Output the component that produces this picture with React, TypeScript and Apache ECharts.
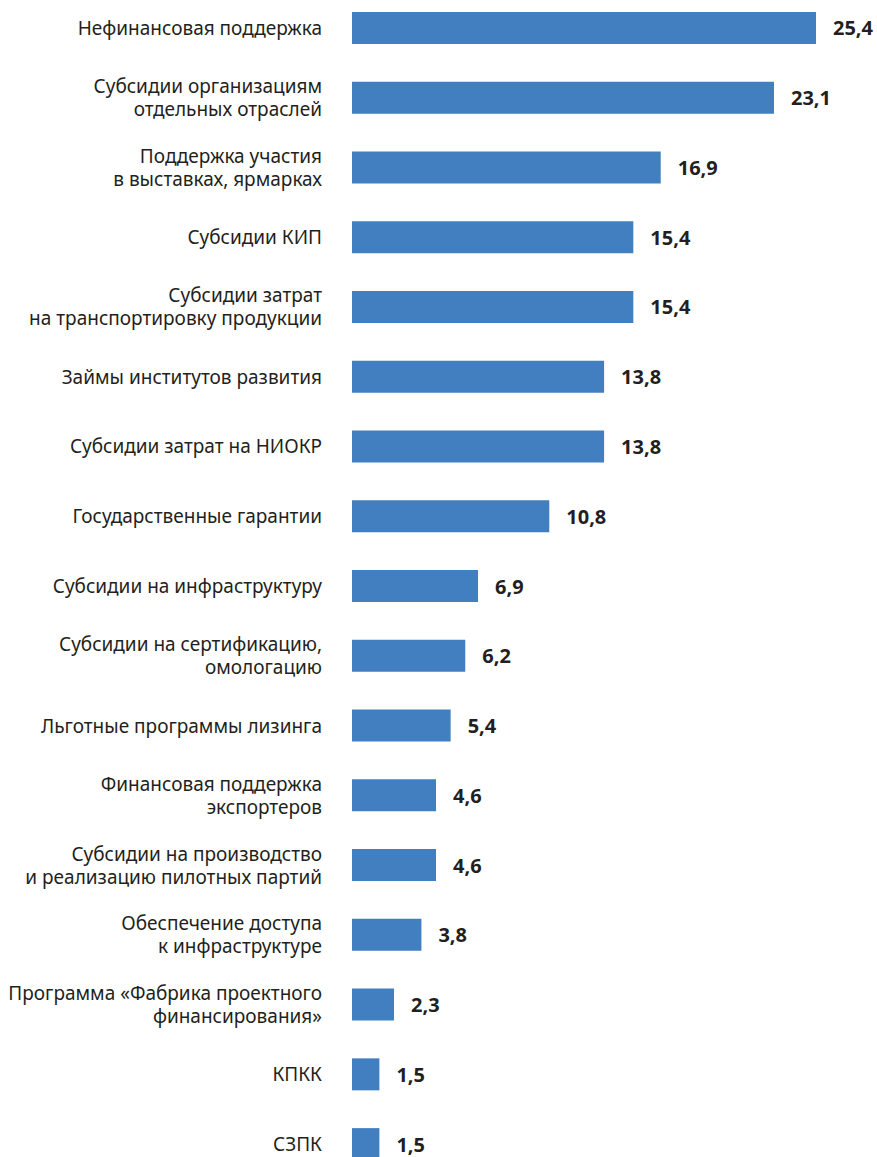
import React, { useEffect, useRef } from "react";
import * as echarts from "echarts";

const categories = [
  "Нефинансовая поддержка",
  "Субсидии организациям\nотдельных отраслей",
  "Поддержка участия\nв выставках, ярмарках",
  "Субсидии КИП",
  "Субсидии затрат\nна транспортировку продукции",
  "Займы институтов развития",
  "Субсидии затрат на НИОКР",
  "Государственные гарантии",
  "Субсидии на инфраструктуру",
  "Субсидии на сертификацию,\nомологацию",
  "Льготные программы лизинга",
  "Финансовая поддержка\nэкспортеров",
  "Субсидии на производство\nи реализацию пилотных партий",
  "Обеспечение доступа\nк инфраструктуре",
  "Программа «Фабрика проектного\nфинансирования»",
  "КПКК",
  "СЗПК",
];

const values = [25.4, 23.1, 16.9, 15.4, 15.4, 13.8, 13.8, 10.8, 6.9, 6.2, 5.4, 4.6, 4.6, 3.8, 2.3, 1.5, 1.5];

export default function App() {
  const ref = useRef<HTMLDivElement>(null);
  useEffect(() => {
    if (!ref.current) return;
    const chart = echarts.init(ref.current, undefined, { renderer: "svg" });
    chart.setOption({
      animation: false,
      grid: { left: 352, width: 464, top: 0, bottom: 0 },
      xAxis: {
        type: "value",
        min: 0,
        max: 25.4,
        show: false,
      },
      yAxis: {
        type: "category",
        data: categories,
        inverse: true,
        axisLine: { show: false },
        axisTick: { show: false },
        axisLabel: {
          margin: 30,
          fontFamily: "Noto Sans",
          fontSize: 19,
          color: "#231f20",
          lineHeight: 23,
          align: "right",
        },
      },
      series: [
        {
          type: "bar",
          data: values,
          barWidth: 32,
          itemStyle: { color: "#417fc1" },
          label: {
            show: true,
            position: "right",
            distance: 17,
            fontFamily: "Open Sans",
            fontWeight: "bold",
            fontSize: 20,
            color: "#231f20",
            formatter: (p: any) => String(p.value).replace(".", ","),
          },
        },
      ],
    });
    return () => chart.dispose();
  }, []);
  return (
    <div
      style={{ position: "absolute", left: 0, top: 0, width: 877, height: 1157, overflow: "hidden" }}
    >
      <div ref={ref} style={{ width: 877, height: 1186, marginTop: -7 }} />
    </div>
  );
}
